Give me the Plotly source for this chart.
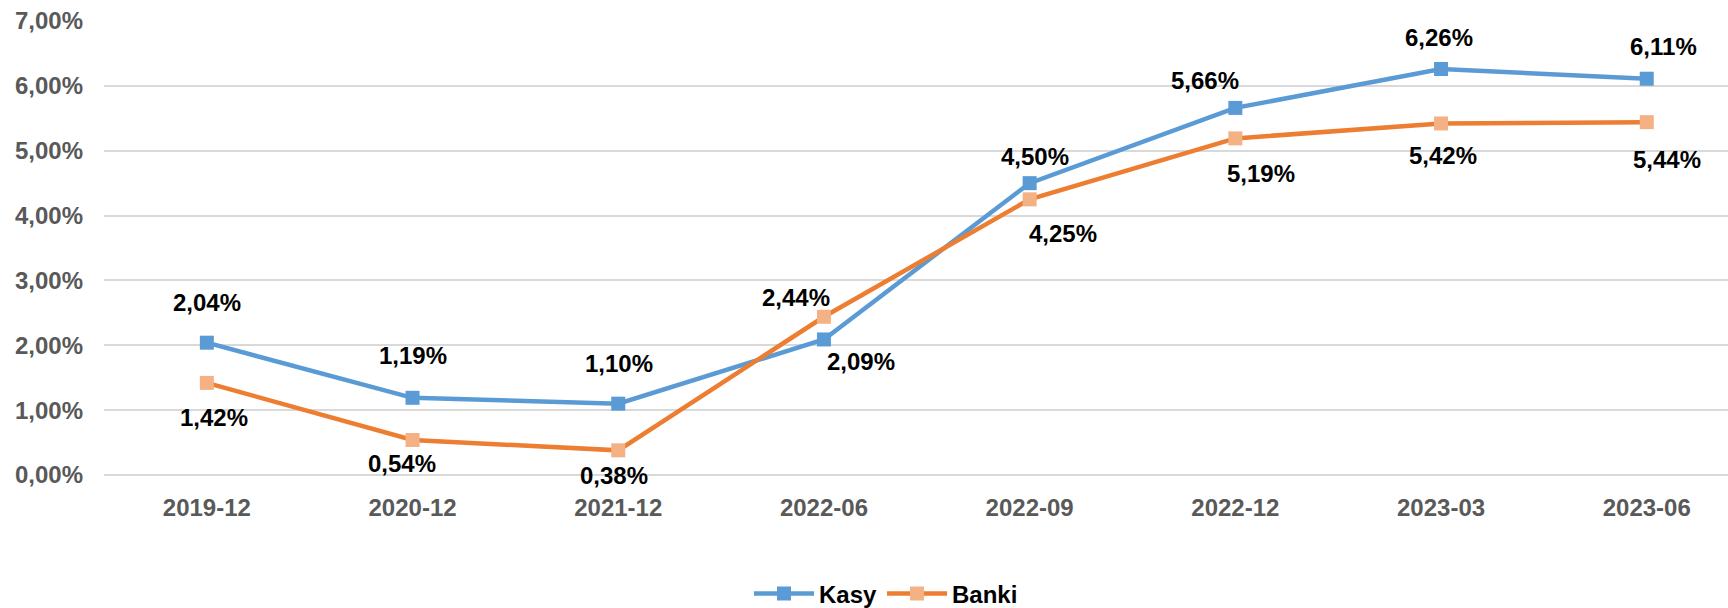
import plotly.graph_objects as go

categories = ["2019-12", "2020-12", "2021-12", "2022-06", "2022-09", "2022-12", "2023-03", "2023-06"]
kasy = [2.04, 1.19, 1.10, 2.09, 4.50, 5.66, 6.26, 6.11]
banki = [1.42, 0.54, 0.38, 2.44, 4.25, 5.19, 5.42, 5.44]
y_ticks = [0, 1, 2, 3, 4, 5, 6, 7]

# label offsets in px (dx, dy with dy positive = down)
kasy_off = [(0, -40), (0, -42), (1, -40), (37, 22), (5, -27), (-30, -27), (-2, -31), (17, -32)]
banki_off = [(7, 35), (-11, 24), (-4, 25), (-28, -19), (33, 34), (26, 35), (2, 32), (20, 37)]

W, H = 1728, 608
left, top, bottom = 104, 21, 133
cat_w = 205.7
x_right = -0.5 + (W - left) / cat_w
FONT = "Liberation Sans, Arial, sans-serif"


def fmt(v):
    return f"{v:.2f}".replace(".", ",") + "%"


fig = go.Figure()
fig.add_trace(go.Scatter(
    x=list(range(len(categories))), y=kasy, name="Kasy", mode="lines+markers",
    line=dict(color="#5B9BD5", width=4.5),
    marker=dict(symbol="square", size=14, color="#5B9BD5"),
))
fig.add_trace(go.Scatter(
    x=list(range(len(categories))), y=banki, name="Banki", mode="lines+markers",
    line=dict(color="#ED7D31", width=4.5),
    marker=dict(symbol="square", size=14, color="#F4B183"),
))

for vals, offs in ((kasy, kasy_off), (banki, banki_off)):
    for i, (v, (dx, dy)) in enumerate(zip(vals, offs)):
        fig.add_annotation(
            x=i, y=v, text=fmt(v), showarrow=False,
            xshift=dx, yshift=-dy,
            font=dict(family=FONT, size=24, color="#000000", weight="bold"),
        )

plot_h = H - top - bottom
fig.update_layout(
    width=W, height=H,
    margin=dict(l=left, r=0, t=top, b=bottom, autoexpand=False),
    plot_bgcolor="white", paper_bgcolor="white",
    font=dict(family=FONT),
    legend=dict(
        orientation="h",
        x=(886 - left) / (W - left), y=(H - bottom - 594) / plot_h,
        xanchor="center", yanchor="middle",
        font=dict(size=24, color="#000000", weight="bold"),
        itemwidth=60, tracegroupgap=0, bgcolor="rgba(0,0,0,0)",
    ),
    xaxis=dict(
        range=[-0.5, x_right], tickmode="array",
        tickvals=list(range(len(categories))), ticktext=categories,
        showgrid=False, zeroline=False, showline=False, ticks="",
        tickfont=dict(size=24, color="#595959", weight="bold"),
        ticklabelstandoff=16, automargin=False,
    ),
    yaxis=dict(
        range=[0, 7], tickmode="array", tickvals=y_ticks,
        ticktext=[fmt(t) for t in y_ticks],
        showgrid=True, gridcolor="#D9D9D9", gridwidth=1.5,
        zeroline=True, zerolinecolor="#D9D9D9", zerolinewidth=1.5,
        showline=False, ticks="",
        tickfont=dict(size=24, color="#595959", weight="bold"),
        ticklabelstandoff=20, automargin=False,
    ),
)
fig.write_html(
    "out.html",
    config={"displayModeBar": False},
    post_script="document.body.style.margin='0';document.body.style.overflow='hidden';",
)
